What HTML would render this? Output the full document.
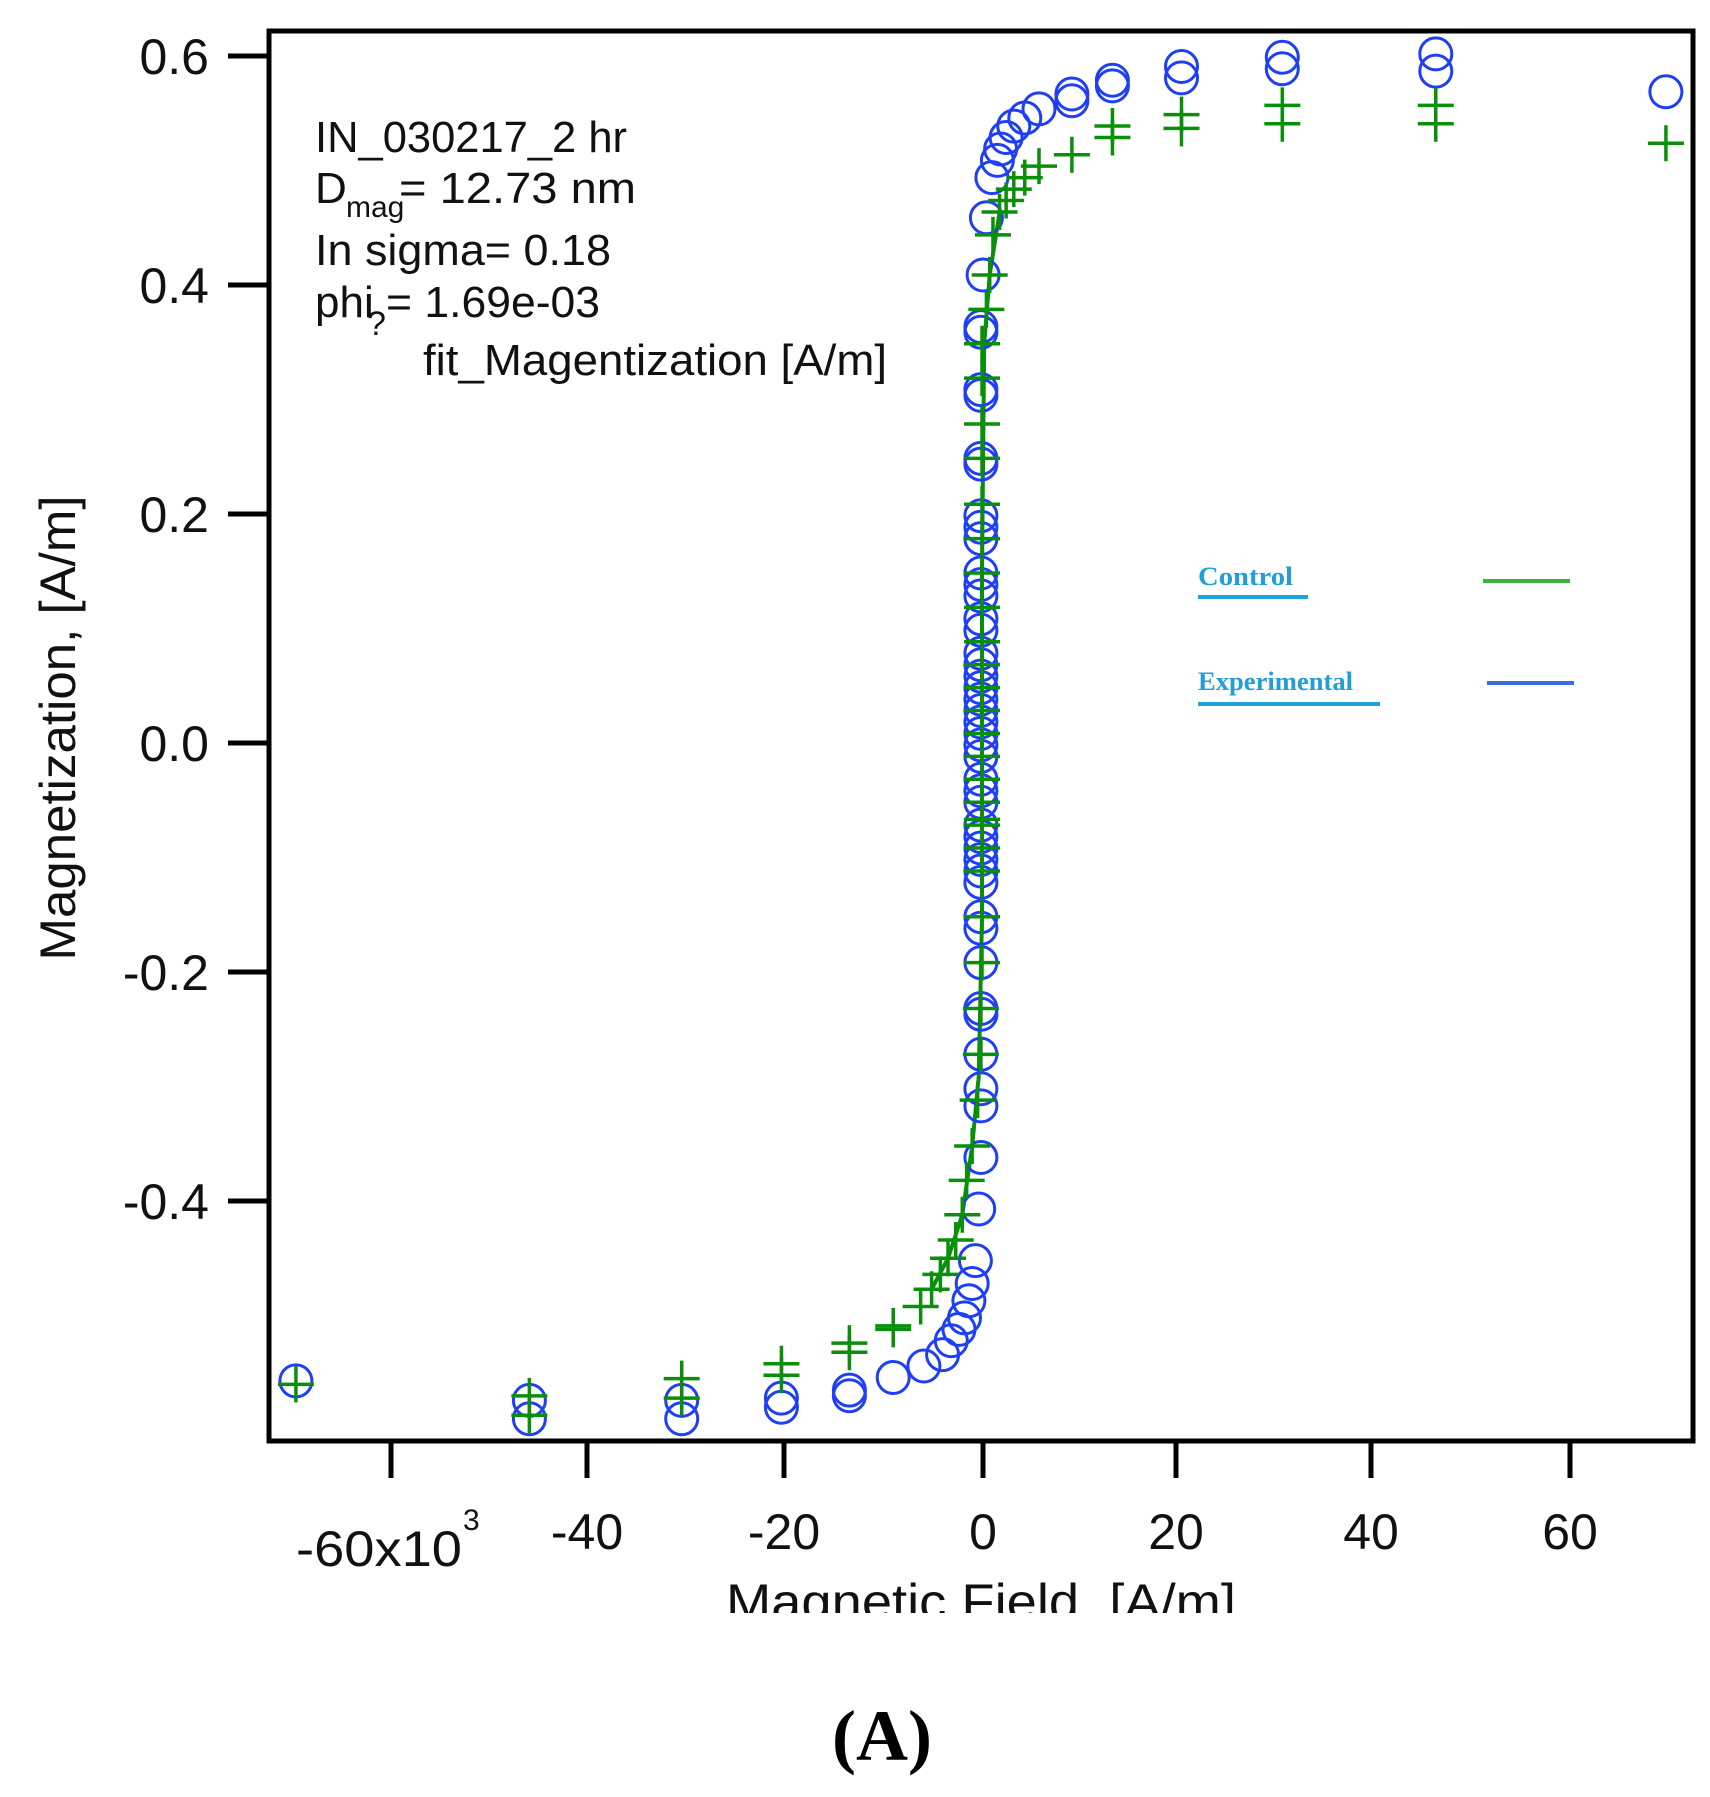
<!DOCTYPE html>
<html><head><meta charset="utf-8"><style>
html,body{margin:0;padding:0;background:#fff;}
svg{display:block;}
.sans{font-family:"Liberation Sans",Arial,sans-serif;}
</style></head><body>
<svg id="s" width="1710" height="1797" viewBox="0 0 1710 1797" xmlns="http://www.w3.org/2000/svg">
<defs><clipPath id="xt"><rect x="0" y="1560" width="1710" height="53"/></clipPath></defs>
<rect x="0" y="0" width="1710" height="1797" fill="#fff"/>
<rect x="269" y="31" width="1424" height="1410" fill="none" stroke="#000" stroke-width="5"/>
<g stroke="#000" stroke-width="5">
<line x1="228" y1="56" x2="269" y2="56"/>
<line x1="228" y1="285" x2="269" y2="285"/>
<line x1="228" y1="514" x2="269" y2="514"/>
<line x1="228" y1="743" x2="269" y2="743"/>
<line x1="228" y1="972" x2="269" y2="972"/>
<line x1="228" y1="1201" x2="269" y2="1201"/>
<line x1="391" y1="1441" x2="391" y2="1478"/>
<line x1="587" y1="1441" x2="587" y2="1478"/>
<line x1="784" y1="1441" x2="784" y2="1478"/>
<line x1="983" y1="1441" x2="983" y2="1478"/>
<line x1="1176" y1="1441" x2="1176" y2="1478"/>
<line x1="1371" y1="1441" x2="1371" y2="1478"/>
<line x1="1570" y1="1441" x2="1570" y2="1478"/>
</g>
<g class="sans" font-size="50" fill="#111" text-anchor="end">
<text x="209" y="74">0.6</text>
<text x="209" y="303">0.4</text>
<text x="209" y="532">0.2</text>
<text x="209" y="761">0.0</text>
<text x="209" y="990">-0.2</text>
<text x="209" y="1219">-0.4</text>
</g>
<g class="sans" font-size="50" fill="#111" text-anchor="middle">
<text x="587" y="1549">-40</text>
<text x="784" y="1549">-20</text>
<text x="983" y="1549">0</text>
<text x="1176" y="1549">20</text>
<text x="1371" y="1549">40</text>
<text x="1570" y="1549">60</text>
</g>
<text class="sans" x="296" y="1566" font-size="50" fill="#111" textLength="166" lengthAdjust="spacingAndGlyphs">-60x10</text>
<text class="sans" x="463" y="1530" font-size="30" fill="#111">3</text>
<text class="sans" x="726" y="1619" font-size="50" fill="#111" clip-path="url(#xt)" textLength="510" lengthAdjust="spacingAndGlyphs">Magnetic Field, [A/m]</text>
<text class="sans" transform="translate(75,728) rotate(-90)" font-size="50" fill="#111" text-anchor="middle" textLength="465" lengthAdjust="spacingAndGlyphs">Magnetization, [A/m]</text>
<text x="882" y="1760" style="font-family:'Liberation Serif',serif;font-weight:bold;font-size:72px" text-anchor="middle" fill="#000">(A)</text>
<g class="sans" font-size="44" fill="#111">
<text x="315" y="152" textLength="312" lengthAdjust="spacingAndGlyphs">IN_030217_2 hr</text>
<text x="315" y="203">D</text>
<text x="346" y="217" font-size="30">mag</text>
<text x="399" y="203" textLength="237" lengthAdjust="spacingAndGlyphs">= 12.73 nm</text>
<text x="315" y="265" textLength="296" lengthAdjust="spacingAndGlyphs">In sigma= 0.18</text>
<text x="315" y="317">phi</text>
<text x="367" y="335" font-size="34">?</text>
<text x="386" y="317" textLength="214" lengthAdjust="spacingAndGlyphs">= 1.69e-03</text>
<text x="423" y="375" textLength="464" lengthAdjust="spacingAndGlyphs">fit_Magentization [A/m]</text>
</g>
<g style="font-family:'Liberation Serif',serif;font-weight:bold;font-size:26px" fill="#1f9fd6">
<text x="1198" y="585" textLength="95" lengthAdjust="spacingAndGlyphs">Control</text>
<text x="1198" y="690" textLength="155" lengthAdjust="spacingAndGlyphs">Experimental</text>
</g>
<line x1="1198" y1="597" x2="1308" y2="597" stroke="#1fa3dc" stroke-width="4"/>
<line x1="1198" y1="704" x2="1380" y2="704" stroke="#1fa3dc" stroke-width="4"/>
<line x1="1483" y1="581" x2="1570" y2="581" stroke="#3cb43c" stroke-width="4"/>
<line x1="1487" y1="683" x2="1574" y2="683" stroke="#3a6fe0" stroke-width="4"/>
<g id="data"></g>
</svg>
<script>
var sx=1.096, sy=1.146;
var blue=[[270,1205],[483,1222],[483,1238],[622,1222],[622,1238],[713,1220],[713,1228],[775,1213],[775,1218],[815,1202],[843,1192],[860,1182],[868,1170],[875,1160],[880,1150],[884,1135],[887,1120],[890,1100],[893,1055]];
[1010,965,950,920,885,880,840,810,800,770,760,750,740,730,720,700,690,680,660,650,640,630,620,610,600,590,580,570,550,540,520,510,500,470,460,450,405,400,345,340,290,285].forEach(function(y){blue.push([895,y]);});
blue=blue.concat([[897,240],[900,190],[905,155],[910,140],[913,130],[918,120],[925,110],[935,103],[948,95],[978,88],[978,82],[1015,75],[1015,70],[1078,68],[1078,58],[1170,60],[1170,50],[1310,62],[1310,47],[1520,80]]);
var green=[[270,1208],[483,1218],[483,1235],[622,1203],[622,1220],[713,1190],[713,1200],[775,1172],[775,1180],[815,1157],[815,1160],[840,1140],[850,1125],[858,1112],[865,1098],[872,1082],[878,1060],[882,1030],[887,1000],[892,960],[895,920],[895,880]];
[840,800,760,740,720,715,700,680,660,640,620,600,580,560,530,500,470,440,400,370,330,300].forEach(function(y){green.push([896,y]);});
green=green.concat([[900,270],[903,240],[906,205],[912,185],[918,175],[925,165],[935,155],[948,145],[978,135],[1015,120],[1015,110],[1078,112],[1078,100],[1170,108],[1170,92],[1310,108],[1310,92],[1520,125]]);
var h='';
var pts=[[850,1125],[865,1098],[878,1060],[887,1000],[893,940],[896,800],[896,500],[898,300],[903,240],[912,185]];
h+='<polyline fill="none" stroke="#0a8f0a" stroke-width="4" points="'+pts.map(function(p){return (p[0]*sx).toFixed(1)+','+(p[1]*sy).toFixed(1);}).join(' ')+'"/>';
blue.forEach(function(p){h+='<circle cx="'+(p[0]*sx).toFixed(1)+'" cy="'+(p[1]*sy).toFixed(1)+'" r="16" fill="none" stroke="#1f3ff5" stroke-width="3"/>';});
green.forEach(function(p){var x=p[0]*sx,y=p[1]*sy;h+='<path d="M'+(x-18)+' '+y+'H'+(x+18)+'M'+x+' '+(y-18)+'V'+(y+18)+'" stroke="#0a8f0a" stroke-width="3.5" fill="none"/>';});
document.getElementById('data').innerHTML=h;
</script>
</body></html>
